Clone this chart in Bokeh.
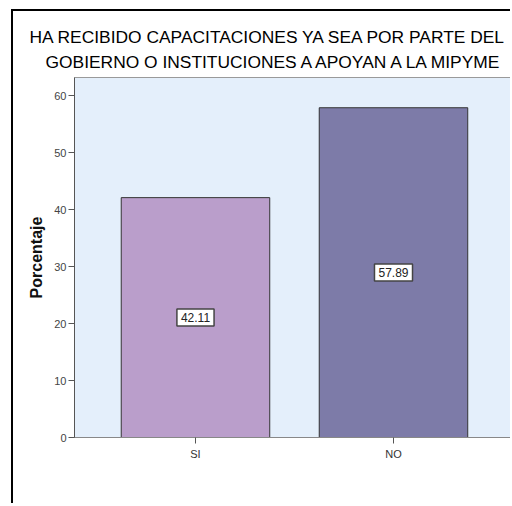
from bokeh.plotting import figure
from bokeh.models import ColumnDataSource, Range1d, FixedTicker, Title
from bokeh.core.properties import value
from bokeh.embed import file_html
from bokeh.resources import INLINE

categories = ["SI", "NO"]
percentages = [42.11, 57.89]
bar_colors = ["#BA9ECB", "#7D7BA8"]
y_ticks = [0, 10, 20, 30, 40, 50, 60]
title_line1 = "HA RECIBIDO CAPACITACIONES YA SEA POR PARTE DEL"
title_line2 = "GOBIERNO O INSTITUCIONES A APOYAN A LA MIPYME"
y_label = "Porcentaje"

FONT = "Liberation Sans"

xs = [i + 0.5 for i in range(len(categories))]
src = ColumnDataSource(dict(
    x=xs, top=percentages, mid=[v / 2 for v in percentages],
    label=[f"{v:.2f}" for v in percentages], color=bar_colors))

p = figure(width=499, height=494,
           x_range=Range1d(-0.111, 2.101), y_range=Range1d(0, 63.2),
           output_backend="svg", toolbar_location=None,
           min_border_left=61, min_border_right=0,
           min_border_top=66, min_border_bottom=68)
p.margin = (9, 0, 0, 11)
p.styles = {"border-left": "2px solid black", "border-top": "2px solid black"}

p.background_fill_color = "#E4EFFB"
p.border_fill_color = "white"
p.outline_line_color = "#9a9a9a"
p.outline_line_width = 1
p.grid.visible = False
p.title.visible = False

t2 = Title(text=title_line2, align="left", offset=-29, standoff=12,
           text_font=FONT, text_font_size="17.4px", text_font_style="normal",
           text_color="#000000")
t1 = Title(text=title_line1, align="left", offset=-45, standoff=-7,
           text_font=FONT, text_font_size="17.4px", text_font_style="normal",
           text_color="#000000")
p.add_layout(t2, "above")
p.add_layout(t1, "above")

p.vbar(x="x", top="top", width=0.75, bottom=0, source=src,
       fill_color="color", line_color="#333333", line_width=1)

p.text(x="x", y="mid", text="label", source=src,
       text_align="center", text_baseline="middle",
       text_font=value(FONT), text_font_size="12px", text_color="#222222",
       background_fill_color="white", border_line_color="#444444",
       border_line_width=1.5, padding=4)

# y axis
p.yaxis.ticker = FixedTicker(ticks=y_ticks)
p.yaxis.minor_tick_line_color = None
p.yaxis.major_tick_out = 6
p.yaxis.major_tick_in = 0
p.yaxis.axis_line_color = "#555555"
p.yaxis.major_tick_line_color = "#555555"
p.yaxis.major_label_text_font = FONT
p.yaxis.major_label_text_font_size = "11px"
p.yaxis.major_label_text_color = "#444444"
p.yaxis.major_label_standoff = 2
p.yaxis.axis_label = y_label
p.yaxis.axis_label_text_font = FONT
p.yaxis.axis_label_text_font_size = "16px"
p.yaxis.axis_label_text_font_style = "bold"
p.yaxis.axis_label_text_color = "#111111"
p.yaxis.axis_label_standoff = 6

# x axis
p.xaxis.ticker = FixedTicker(ticks=xs)
p.xaxis.major_label_overrides = {x: c for x, c in zip(xs, categories)}
p.xaxis.minor_tick_line_color = None
p.xaxis.major_tick_out = 6
p.xaxis.major_tick_in = 0
p.xaxis.axis_line_color = "#888888"
p.xaxis.major_tick_line_color = "#555555"
p.xaxis.major_label_text_font = FONT
p.xaxis.major_label_text_font_size = "11px"
p.xaxis.major_label_text_color = "#333333"
p.xaxis.major_label_standoff = 4

open("out.html", "w").write(file_html(p, INLINE))
